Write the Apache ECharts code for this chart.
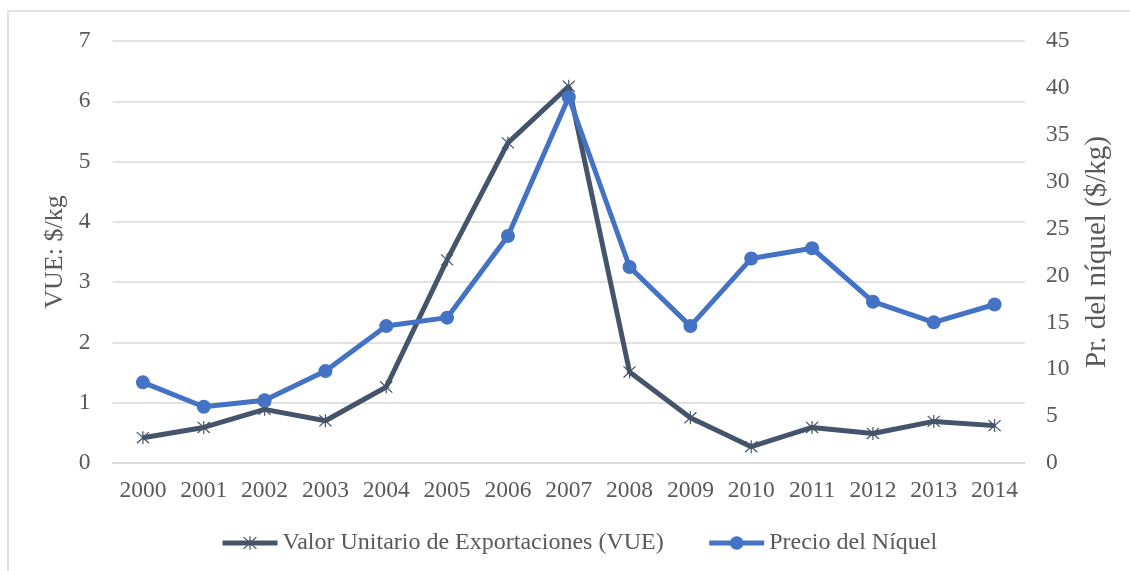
<!DOCTYPE html>
<html>
<head>
<meta charset="utf-8">
<script src="https://cdn.jsdelivr.net/npm/echarts@6/dist/echarts.min.js"></script>
<style>
html,body{margin:0;padding:0;background:#fff;}
#chart{width:1130px;height:571px;}
</style>
</head>
<body>
<div id="chart"></div>
<script>
const years = ['2000','2001','2002','2003','2004','2005','2006','2007','2008','2009','2010','2011','2012','2013','2014'];
const vue = [0.42,0.59,0.89,0.70,1.26,3.37,5.31,6.25,1.51,0.75,0.27,0.59,0.49,0.69,0.62];
const niquel = [8.6,6.0,6.7,9.8,14.6,15.5,24.2,39.0,20.9,14.6,21.8,22.9,17.2,15.0,16.9];
const leftTicks = {min:0, max:7, interval:1};
const rightTicks = {min:0, max:45, interval:5};

const asterisk = 'path://M11 0L13 0L13 24L11 24Z M1 2.5L2.5 1L23 21.5L21.5 23Z M21.5 1L23 2.5L2.5 23L1 21.5Z';
const serif = '"Liberation Serif","Times New Roman",serif';
const textCol = '#595959';

const chart = echarts.init(document.getElementById('chart'));
chart.setOption({
  animation:false,
  backgroundColor:'#fff',
  graphic:[{type:'rect',shape:{x:8,y:11,width:1200,height:600},style:{fill:'none',stroke:'#d9d9d9',lineWidth:1.5},silent:true}],
  grid:{left:112.5,right:105,top:41,bottom:108},
  legend:{
    left:215, top:526, itemWidth:55, itemHeight:17, itemGap:43,
    lineStyle:{width:5},
    textStyle:{fontFamily:serif,fontSize:24,color:textCol},
    data:['Valor Unitario de Exportaciones (VUE)','Precio del Níquel']
  },
  xAxis:{
    type:'category', data:years, boundaryGap:true,
    axisTick:{show:false},
    axisLine:{show:true,lineStyle:{color:'#d9d9d9',width:1.5}},
    axisLabel:{fontFamily:serif,fontSize:23.5,color:textCol,margin:16,interval:0,hideOverlap:false}
  },
  yAxis:[{
    type:'value', min:leftTicks.min, max:leftTicks.max, interval:leftTicks.interval,
    name:'VUE: $/kg', nameLocation:'middle', nameGap:40,
    nameTextStyle:{fontFamily:serif,fontSize:26,color:textCol},
    axisLine:{show:false}, axisTick:{show:false},
    axisLabel:{fontFamily:serif,fontSize:23.5,color:textCol,margin:22},
    splitLine:{lineStyle:{color:'#d9d9d9',width:1.5}}
  },{
    type:'value', min:rightTicks.min, max:rightTicks.max, interval:rightTicks.interval,
    name:'Pr. del níquel ($/kg)', nameLocation:'middle', nameGap:58, nameRotate:90,
    nameTextStyle:{fontFamily:serif,fontSize:29,color:textCol},
    axisLine:{show:false}, axisTick:{show:false}, splitLine:{show:false},
    axisLabel:{fontFamily:serif,fontSize:23.5,color:textCol,margin:21}
  }],
  series:[{
    name:'Valor Unitario de Exportaciones (VUE)', type:'line', data:vue, yAxisIndex:0,
    symbol:asterisk, symbolSize:13, showAllSymbol:true,
    lineStyle:{color:'#44546A',width:5}, itemStyle:{color:'#44546A'}
  },{
    name:'Precio del Níquel', type:'line', data:niquel, yAxisIndex:1,
    symbol:'circle', symbolSize:14, showAllSymbol:true,
    lineStyle:{color:'#4472C4',width:5}, itemStyle:{color:'#4472C4'}
  }]
});
</script>
</body>
</html>
